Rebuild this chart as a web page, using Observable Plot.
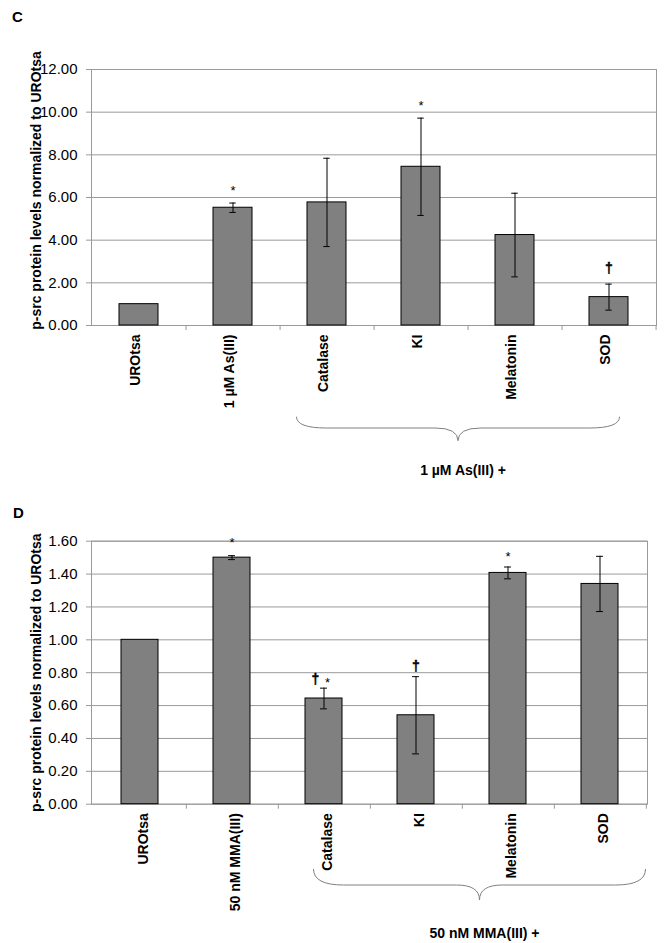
<!DOCTYPE html>
<html>
<head>
<meta charset="utf-8">
<script src="https://cdn.jsdelivr.net/npm/d3@7"></script>
<script src="https://cdn.jsdelivr.net/npm/@observablehq/plot@0.6"></script>
<style>
  body { margin: 0; background: #fff; }
  #wrap { position: relative; width: 670px; height: 943px; background: #fff;
          font-family: "Liberation Sans", Arial, sans-serif; color: #000; }
  .panel { position: absolute; left: 0; }
  .letter { position: absolute; font-weight: bold; font-size: 15px; line-height: 1; }
</style>
</head>
<body>
<div id="wrap"></div>
<script>
// ---------- Panel C data ----------
const categoriesC = ["UROtsa", "1 µM As(III)", "Catalase", "KI", "Melatonin", "SOD"];
const valuesC = [1.00, 5.52, 5.77, 7.44, 4.24, 1.33];
const errorsC = [0, 0.22, 2.07, 2.28, 1.96, 0.61];
const starsC = ["", "*", "", "*", "", ""];
const daggersC = ["", "", "", "", "", "†"];
const yTicksC = [0, 2, 4, 6, 8, 10, 12];
const groupLabelC = "1 µM As(III) +";

// ---------- Panel D data ----------
const categoriesD = ["UROtsa", "50 nM MMA(III)", "Catalase", "KI", "Melatonin", "SOD"];
const valuesD = [1.00, 1.50, 0.643, 0.541, 1.407, 1.34];
const errorsD = [0, 0.012, 0.063, 0.235, 0.036, 0.168];
const starsD = ["", "*", "*", "", "*", ""];
const daggersD = ["", "", "†", "†", "", ""];
const yTicksD = [0, 0.2, 0.4, 0.6, 0.8, 1.0, 1.2, 1.4, 1.6];
const groupLabelD = "50 nM MMA(III) +";

const yTitle = "p-src protein levels normalized to UROtsa";

const FONT = "'Liberation Sans', Arial, Helvetica, sans-serif";
const GRID = "#9a9a9a";
const wrap = document.getElementById("wrap");

function panel(cfg) {
  const {cats, vals, errs, stars, daggers, ticks, top, height, mT, mB, mR, pad,
         groupLabel, braceL, braceR, braceY, labelY, titleDy, annGap, annDx, labelDx} = cfg;
  const W = 670, mL = 91;
  const data = cats.map((c, i) => ({cat: c, v: vals[i], e: errs[i], star: stars[i], dagger: daggers[i], i}));
  const withErr = data.filter(d => d.e > 0);
  const step = (W - mL - mR) / cats.length;
  const bw = step * (1 - pad);
  const capInset = (bw - 7) / 2;

  // annotation marks (glyph offsets are styling, not data)
  const annMarks = [];
  data.forEach(d => {
    const gap = annGap[d.i];
    const dxs = annDx[d.i] || [0, 0];
    if (d.dagger) annMarks.push(Plot.text([d], {
      x: "cat", y: r => r.v + r.e, text: "dagger", dy: -gap, dx: dxs[0],
      fontSize: 14, fontWeight: "bold", fill: "black", stroke: "black", strokeWidth: 0.4}));
    if (d.star) annMarks.push(Plot.text([d], {
      x: "cat", y: r => r.v + r.e, text: "star", dy: -gap + 3.3, dx: dxs[1],
      fontSize: 13, fill: "black"}));
  });

  const chart = Plot.plot({
    width: W, height,
    marginLeft: mL, marginRight: mR, marginTop: mT, marginBottom: mB,
    style: {fontFamily: FONT, fontSize: "15px", color: "black", background: "white", overflow: "visible"},
    x: {domain: cats, paddingInner: pad, paddingOuter: pad / 2, axis: null, label: null},
    y: {domain: [0, ticks[ticks.length - 1]], axis: null, label: null},
    marks: [
      Plot.gridY(ticks, {stroke: GRID, strokeOpacity: 1, strokeWidth: 1}),
      Plot.frame({stroke: GRID, strokeWidth: 1}),
      Plot.barY(data, {x: "cat", y: "v", fill: "#808080", stroke: "black", strokeWidth: 1}),
      Plot.ruleX(withErr, {x: "cat", y1: d => d.v - d.e, y2: d => d.v + d.e, stroke: "black", strokeWidth: 1}),
      Plot.tickY(withErr, {x: "cat", y: d => d.v + d.e, insetLeft: capInset, insetRight: capInset, stroke: "black", strokeWidth: 1}),
      Plot.tickY(withErr, {x: "cat", y: d => d.v - d.e, insetLeft: capInset, insetRight: capInset, stroke: "black", strokeWidth: 1}),
      ...annMarks,
      Plot.axisY(ticks, {tickSize: 5, tickPadding: 9, tickFormat: d3.format(".2f"),
                         stroke: GRID, fontSize: 15, label: null}),
      Plot.axisX(cats, {tickSize: 5, tickFormat: () => "", dx: step / 2, stroke: GRID, label: null}),
      Plot.axisX(cats, {tickSize: 0, tickPadding: 9, tickRotate: -90, textAnchor: "end", lineAnchor: "middle",
                        dx: labelDx, fontSize: 14, fontWeight: "bold", label: null}),
      Plot.text([yTitle], {frameAnchor: "left", rotate: -90, dx: -55, dy: titleDy,
                           textAnchor: "middle", lineAnchor: "middle",
                           fontSize: 14, fontWeight: "bold", fill: "black"})
    ]
  });
  chart.classList.add("panel");
  chart.style.top = top + "px";
  wrap.appendChild(chart);

  // curly brace under the treatment group, from the chart's own x scale
  const xs = chart.scale("x");
  const bandw = xs.bandwidth || bw;
  const cx = c => xs.apply(c) + bandw / 2;
  const frameBottom = height - mB;
  const x0 = cx(cats[2]) + braceL, x1 = cx(cats[cats.length - 1]) + braceR;
  const xm = (x0 + x1) / 2;
  const y0 = frameBottom + braceY[0], y1 = frameBottom + braceY[1], y2 = frameBottom + braceY[2];
  const r1 = 30, r2 = 23;
  const path = `M${x0},${y0} Q${x0},${y1} ${x0 + r1},${y1} L${xm - r2},${y1} Q${xm},${y1} ${xm},${y2}`
             + ` Q${xm},${y1} ${xm + r2},${y1} L${x1 - r1},${y1} Q${x1},${y1} ${x1},${y0}`;
  const svg = d3.select(chart);
  svg.append("path").attr("d", path).attr("fill", "none").attr("stroke", "#808080").attr("stroke-width", 1);
  svg.append("text").text(groupLabel)
    .attr("x", xm + 5).attr("y", frameBottom + labelY)
    .attr("text-anchor", "middle").attr("dy", "0.35em")
    .attr("font-family", FONT).attr("font-size", 14).attr("font-weight", "bold").attr("fill", "black");
  return chart;
}

panel({
  cats: categoriesC, vals: valuesC, errs: errorsC, stars: starsC, daggers: daggersC, ticks: yTicksC,
  top: 0, height: 490, mT: 69, mB: 165, mR: 14, pad: 0.58,
  groupLabel: groupLabelC, braceL: -30, braceR: 11, braceY: [91.7, 103, 115.7], labelY: 145,
  titleDy: -7, annGap: [16, 16, 16, 15.5, 16, 16], annDx: {}, labelDx: -3
});

panel({
  cats: categoriesD, vals: valuesD, errs: errorsD, stars: starsD, daggers: daggersD, ticks: yTicksD,
  top: 490, height: 453, mT: 50.7, mB: 139.3, mR: 23, pad: 0.6,
  groupLabel: groupLabelD, braceL: -10, braceR: 46, braceY: [65.3, 81.3, 96.3], labelY: 129.3,
  titleDy: 0, annGap: [16, 16, 8.5, 10.5, 13, 16], annDx: {2: [-8.5, 3.5]}, labelDx: 4
});

// panel letters
[["C", 12, 9], ["D", 13, 505]].forEach(([t, x, y]) => {
  const el = document.createElement("div");
  el.className = "letter";
  el.textContent = t;
  el.style.left = x + "px";
  el.style.top = y + "px";
  wrap.appendChild(el);
});
</script>
</body>
</html>
